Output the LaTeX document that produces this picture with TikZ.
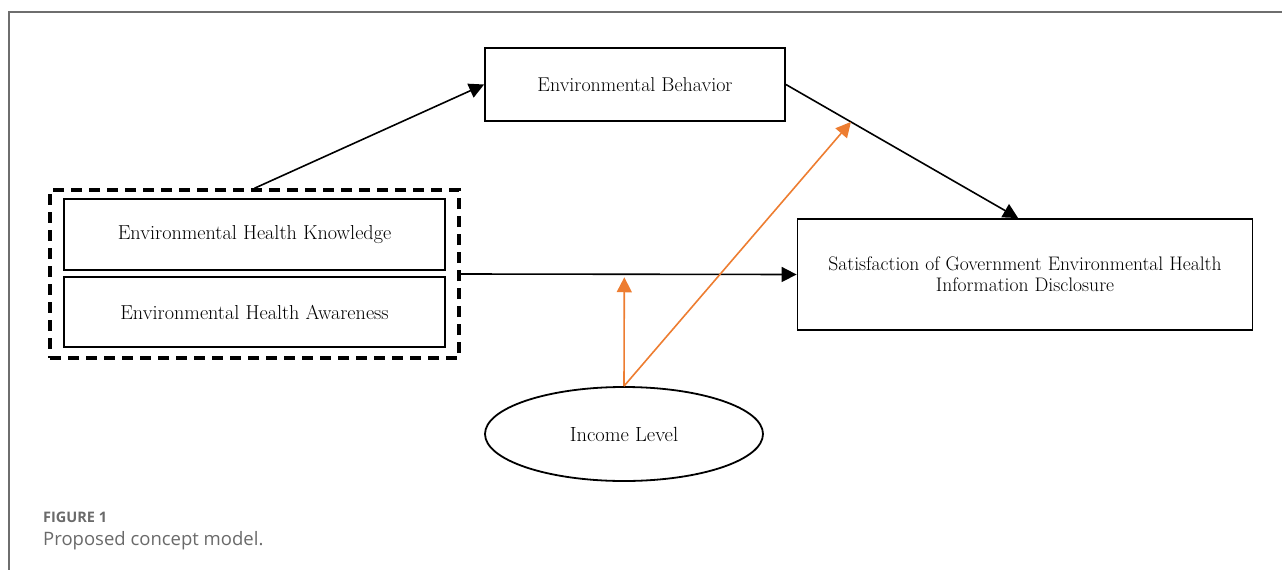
\documentclass[tikz,border=0pt]{standalone}
\usepackage{fontspec}
\newfontfamily\capfont{Open Sans}
\usetikzlibrary{arrows.meta,shapes.geometric,calc}
\definecolor{frame}{HTML}{6E6E6E}
\definecolor{capgray}{HTML}{6A6A6A}
\definecolor{orangeline}{HTML}{ED7D31}
\begin{document}
\begin{tikzpicture}[x=1pt,y=-1pt,
  box/.style={draw=black,line width=1.8pt,rectangle,inner sep=0pt,font=\fontsize{20}{22}\selectfont,align=center},
  bigtext/.style={font=\fontsize{20.2}{22}\selectfont},
  conn/.style={line width=1.6pt,-{Triangle[length=15pt,width=15pt]}},
  oconn/.style={draw=orangeline,line width=1.6pt,-{Triangle[length=15pt,width=15pt]}},
  dashbox/.style={draw=black,line width=3.5pt,dash pattern=on 11pt off 7pt,rectangle,inner sep=0pt}]
\useasboundingbox (0,0) rectangle (1282,570);
\draw[frame,line width=1.2pt] (9,570) -- (9,12) -- (1282,12);
\node[dashbox,minimum width=409pt,minimum height=168pt] (dash) at (254.5,274) {};
\node[box,bigtext,minimum width=381pt,minimum height=71pt] (ehk) at (254.5,234.5) {Environmental Health Knowledge};
\node[box,bigtext,minimum width=381pt,minimum height=70pt] (eha) at (254.5,312) {Environmental Health Awareness};
\node[box,minimum width=300pt,minimum height=73pt] (eb) at (635,84.5) {Environmental Behavior};
\node[box,font=\fontsize{19.6}{21}\selectfont,minimum width=455pt,minimum height=111pt] (sat) at (1025,274.5) {Satisfaction of Government Environmental Health\\Information Disclosure};
\node[draw=black,line width=1.8pt,ellipse,minimum width=278pt,minimum height=94pt,inner sep=0pt,font=\fontsize{20.5}{22}\selectfont] (inc) at (624,434) {Income Level};
\coordinate (satin) at ($(sat.north west)!0.485!(sat.north east)$);
\draw[conn] (dash.north) -- (eb.west);
\draw[conn] (eb.east) -- (satin);
\draw[conn] (dash.east) -- (sat.west);
\coordinate (m1) at ($(dash.east)!0.487!(sat.west)+(0,3)$);
\coordinate (m2) at ($(eb.east)!0.28!(satin)$);
\draw[oconn] (inc.north) -- (m1);
\draw[oconn] (inc.north) -- (m2);
\node[anchor=west,inner sep=0pt,text=capgray,font=\capfont\fontsize{14.5}{16}\selectfont\bfseries] (fig) at (43,517) {FIGURE 1};
\node[anchor=west,inner sep=0pt,text=capgray,font=\capfont\fontsize{18.5}{22}\selectfont] (capt) at (43,541) {Proposed concept model.};
\end{tikzpicture}
\end{document}
